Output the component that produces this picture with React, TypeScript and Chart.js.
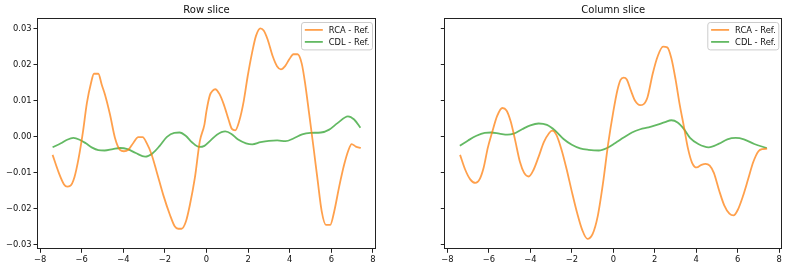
import React, { useEffect, useRef } from 'react';
import { Chart, registerables } from 'chart.js';

Chart.register(...registerables);

// ---- data ----
const rowRcaX = [-7.4, -7.1, -6.85, -6.7, -6.55, -6.35, -6.15, -5.95, -5.75, -5.55, -5.41, -5.2, -5.04, -4.88, -4.64, -4.4, -4.16, -3.97, -3.76, -3.52, -3.28, -3.07, -2.88, -2.64, -2.4, -2.08, -1.76, -1.52, -1.36, -1.2, -0.99, -0.8, -0.56, -0.32, -0.1, 0.0, 0.16, 0.3, 0.42, 0.62, 0.83, 1.06, 1.22, 1.38, 1.58, 1.79, 1.98, 2.19, 2.38, 2.59, 2.75, 2.94, 3.18, 3.39, 3.58, 3.78, 3.98, 4.18, 4.38, 4.58, 4.75, 4.94, 5.15, 5.34, 5.54, 5.74, 5.95, 6.14, 6.38, 6.62, 6.82, 6.98, 7.18, 7.42];
const rowRcaY = [-0.005, -0.01, -0.0132, -0.0138, -0.0136, -0.0112, -0.006, 0.001, 0.0094, 0.015, 0.0175, 0.0175, 0.0145, 0.0117, 0.0062, -0.0003, -0.0036, -0.004, -0.0036, -0.0017, -0.0001, -0.0001, -0.0017, -0.0049, -0.0096, -0.0161, -0.0216, -0.0249, -0.0255, -0.0255, -0.0235, -0.0189, -0.0114, -0.0012, 0.0034, 0.0072, 0.0115, 0.0128, 0.0132, 0.0119, 0.009, 0.0048, 0.0022, 0.0018, 0.0045, 0.0099, 0.0168, 0.0233, 0.028, 0.0301, 0.0295, 0.027, 0.0224, 0.0196, 0.0187, 0.0196, 0.0215, 0.0229, 0.0229, 0.0203, 0.0145, 0.0062, -0.0031, -0.0119, -0.0207, -0.0244, -0.0244, -0.0207, -0.0138, -0.0077, -0.0038, -0.002, -0.0027, -0.0031];

const rowCdlX = [-7.4, -7.0, -6.7, -6.4, -6.1, -5.8, -5.5, -5.2, -4.9, -4.5, -4.15, -3.8, -3.4, -2.95, -2.6, -2.25, -1.9, -1.55, -1.3, -1.0, -0.7, -0.35, -0.1, 0.2, 0.5, 0.9, 1.2, 1.5, 1.9, 2.2, 2.6, 3.0, 3.4, 3.8, 4.2, 4.6, 5.0, 5.5, 5.9, 6.3, 6.8, 7.1, 7.4];
const rowCdlY = [-0.0029, -0.0018, -0.0008, -0.0003, -0.0008, -0.0018, -0.003, -0.0037, -0.0038, -0.0034, -0.0031, -0.0034, -0.0045, -0.0055, -0.0046, -0.0025, 0.0, 0.0011, 0.0012, 0.0003, -0.0015, -0.0028, -0.0025, -0.001, 0.0006, 0.0015, 0.0008, -0.0007, -0.0018, -0.0021, -0.0015, -0.0011, -0.001, -0.0012, -0.0004, 0.0007, 0.0011, 0.0012, 0.002, 0.0038, 0.0057, 0.0048, 0.0025];

const colRcaX = [-7.39, -7.15, -6.9, -6.65, -6.45, -6.25, -6.05, -5.85, -5.6, -5.35, -5.15, -4.95, -4.75, -4.5, -4.3, -4.08, -3.85, -3.6, -3.35, -3.1, -2.95, -2.75, -2.5, -2.25, -2.0, -1.75, -1.5, -1.25, -1.0, -0.75, -0.5, -0.25, 0.0, 0.2, 0.35, 0.5, 0.65, 0.85, 1.05, 1.3, 1.45, 1.65, 1.9, 2.15, 2.4, 2.6, 2.8, 3.0, 3.2, 3.4, 3.6, 3.8, 4.02, 4.25, 4.45, 4.65, 4.85, 5.1, 5.35, 5.6, 5.8, 6.0, 6.25, 6.5, 6.75, 7.0, 7.2, 7.42];
const colRcaY = [-0.005, -0.009, -0.0118, -0.0128, -0.0118, -0.0085, -0.003, 0.0011, 0.0058, 0.008, 0.0073, 0.0043, -0.0005, -0.007, -0.01, -0.011, -0.0092, -0.0055, -0.0015, 0.001, 0.0017, 0.0006, -0.0035, -0.009, -0.0152, -0.021, -0.0258, -0.0283, -0.027, -0.022, -0.013, -0.002, 0.007, 0.013, 0.0158, 0.0164, 0.0159, 0.0128, 0.01, 0.0088, 0.009, 0.011, 0.0175, 0.0225, 0.025, 0.0248, 0.0218, 0.016, 0.009, 0.003, -0.0032, -0.0072, -0.0085, -0.0078, -0.0075, -0.008, -0.01, -0.0148, -0.019, -0.0213, -0.0218, -0.0203, -0.0165, -0.0118, -0.007, -0.004, -0.0034, -0.0033];

const colCdlX = [-7.4, -7.0, -6.6, -6.2, -5.9, -5.5, -5.1, -4.8, -4.4, -4.0, -3.6, -3.2, -2.8, -2.4, -2.0, -1.6, -1.2, -0.7, -0.3, 0.1, 0.5, 0.9, 1.3, 1.7, 2.1, 2.5, 2.8, 3.1, 3.4, 3.7, 4.1, 4.6, 5.1, 5.5, 5.9, 6.3, 6.8, 7.4];
const colCdlY = [-0.0025, -0.001, 0.0003, 0.0011, 0.0012, 0.0009, 0.0006, 0.0009, 0.0021, 0.0032, 0.0037, 0.0033, 0.0017, -0.0006, -0.0022, -0.0032, -0.0036, -0.0038, -0.0031, -0.0017, -0.0002, 0.0012, 0.0021, 0.0026, 0.0033, 0.0041, 0.0046, 0.004, 0.0022, -0.0003, -0.002, -0.0029, -0.0019, -0.0007, -0.0003, -0.0007, -0.002, -0.0031];

const xTicks = [-8, -6, -4, -2, 0, 2, 4, 6, 8];
const yTicks = [-0.03, -0.02, -0.01, 0, 0.01, 0.02, 0.03];
const seriesLabels = ['RCA - Ref.', 'CDL - Ref.'];
const panelTitles = ['Row slice', 'Column slice'];

// ---- styles ----
const ORANGE = 'rgba(255,127,14,0.74)';
const GREEN = 'rgba(44,160,44,0.74)';
const FONT = "'DejaVu Sans', sans-serif";
const TICK_SIZE = 8.33;

const pts = (xs: number[], ys: number[]) => xs.map((x, i) => ({ x, y: ys[i] }));
const fmtMinus = (s: string) => s.replace('-', '\u2212');

const framePlugin = {
  id: 'frameBox',
  afterDatasetsDraw(chart: any) {
    const { ctx, chartArea: a } = chart;
    ctx.save();
    ctx.strokeStyle = '#222';
    ctx.lineWidth = 1;
    const l = Math.round(a.left) + 0.5;
    const t = Math.round(a.top) + 0.5;
    const r = Math.round(a.right) - 0.5;
    const b = Math.round(a.bottom) - 0.5;
    ctx.strokeRect(l, t, r - l, b - t);
    ctx.restore();
  },
};

const legendPlugin = {
  id: 'innerLegend',
  afterDraw(chart: any) {
    const { ctx, chartArea: a } = chart;
    const ds = chart.data.datasets;
    ctx.save();
    ctx.font = `${TICK_SIZE}px ${FONT}`;
    let tw = 0;
    ds.forEach((d: any) => { tw = Math.max(tw, ctx.measureText(d.label).width); });
    const w = 27.3 + tw + 3;
    const h = 27.4;
    const x0 = a.right - 3.5 - w;
    const y0 = a.top + 5;
    const r = 2.5;
    ctx.beginPath();
    ctx.moveTo(x0 + r, y0);
    ctx.lineTo(x0 + w - r, y0);
    ctx.quadraticCurveTo(x0 + w, y0, x0 + w, y0 + r);
    ctx.lineTo(x0 + w, y0 + h - r);
    ctx.quadraticCurveTo(x0 + w, y0 + h, x0 + w - r, y0 + h);
    ctx.lineTo(x0 + r, y0 + h);
    ctx.quadraticCurveTo(x0, y0 + h, x0, y0 + h - r);
    ctx.lineTo(x0, y0 + r);
    ctx.quadraticCurveTo(x0, y0, x0 + r, y0);
    ctx.closePath();
    ctx.fillStyle = 'rgba(255,255,255,0.8)';
    ctx.fill();
    ctx.strokeStyle = '#cccccc';
    ctx.lineWidth = 1;
    ctx.stroke();
    ds.forEach((d: any, i: number) => {
      const yy = y0 + 7.4 + i * 12;
      ctx.beginPath();
      ctx.strokeStyle = d.borderColor;
      ctx.lineWidth = d.borderWidth;
      ctx.moveTo(x0 + 3.3, yy);
      ctx.lineTo(x0 + 21.3, yy);
      ctx.stroke();
      ctx.fillStyle = '#111';
      ctx.textBaseline = 'middle';
      ctx.textAlign = 'left';
      ctx.fillText(d.label, x0 + 27.3, yy + 0.5);
    });
    ctx.restore();
  },
};

function makeConfig(title: string, rca: any[], cdl: any[], showY: boolean, yWidth: number, padRight: number): any {
  return {
    type: 'line',
    data: {
      datasets: [
        { label: seriesLabels[0], data: rca, borderColor: ORANGE, borderWidth: 1.8, pointRadius: 0, cubicInterpolationMode: 'monotone', fill: false },
        { label: seriesLabels[1], data: cdl, borderColor: GREEN, borderWidth: 1.8, pointRadius: 0, cubicInterpolationMode: 'monotone', fill: false },
      ],
    },
    options: {
      responsive: false,
      animation: false,
      events: [],
      layout: { padding: { left: 0, right: padRight, top: 0, bottom: 0 } },
      plugins: {
        legend: { display: false },
        tooltip: { enabled: false },
        title: {
          display: true,
          text: title,
          fullSize: false,
          color: '#111',
          font: { family: FONT, size: 10, weight: 'normal' },
          padding: { top: 4, bottom: 1.5 },
        },
      },
      scales: {
        x: {
          type: 'linear',
          min: -8.15,
          max: 8.15,
          afterBuildTicks: (s: any) => { s.ticks = xTicks.map((v) => ({ value: v })); },
          afterFit: (s: any) => { s.height = 20.7; },
          grid: { display: true, drawOnChartArea: false, drawTicks: true, tickLength: 3.5, tickColor: '#222', tickWidth: 1 },
          border: { display: false },
          ticks: {
            padding: 2,
            color: '#111',
            font: { family: FONT, size: TICK_SIZE },
            maxRotation: 0,
            autoSkip: false,
            callback: (v: number) => fmtMinus(String(v)),
          },
        },
        y: {
          type: 'linear',
          min: -0.0312,
          max: 0.0331,
          afterBuildTicks: (s: any) => { s.ticks = yTicks.map((v) => ({ value: v })); },
          afterFit: (s: any) => { s.width = yWidth; },
          grid: { display: true, drawOnChartArea: false, drawTicks: true, tickLength: 3.5, tickColor: '#222', tickWidth: 1 },
          border: { display: false },
          ticks: {
            padding: 2,
            color: '#111',
            font: { family: FONT, size: TICK_SIZE },
            autoSkip: false,
            callback: (v: number) => (showY ? fmtMinus(Number(v).toFixed(2)) : ''),
          },
        },
      },
    },
    plugins: [framePlugin, legendPlugin],
  };
}

export default function App() {
  const leftRef = useRef<HTMLCanvasElement>(null);
  const rightRef = useRef<HTMLCanvasElement>(null);

  useEffect(() => {
    document.body.style.margin = '0';
    const left = new Chart(leftRef.current!, makeConfig(panelTitles[0], pts(rowRcaX, rowRcaY), pts(rowCdlX, rowCdlY), true, 37, 16));
    const right = new Chart(rightRef.current!, makeConfig(panelTitles[1], pts(colRcaX, colRcaY), pts(colCdlX, colCdlY), false, 52.3, 6.7));
    return () => {
      left.destroy();
      right.destroy();
    };
  }, []);

  return (
    <div style={{ position: 'relative', width: 789, height: 270, background: '#fff' }}>
      <canvas ref={leftRef} width={392} height={270} style={{ position: 'absolute', left: 0, top: 0 }} />
      <canvas ref={rightRef} width={397} height={270} style={{ position: 'absolute', left: 392, top: 0 }} />
    </div>
  );
}
